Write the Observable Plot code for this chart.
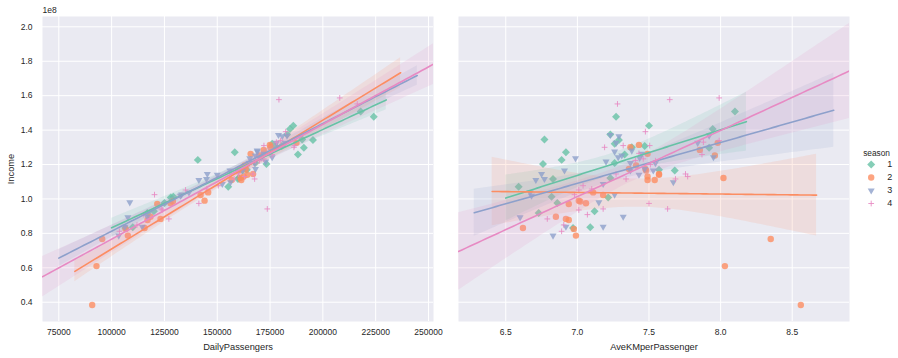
<!DOCTYPE html>
<html><head><meta charset="utf-8">
<script src="https://cdn.jsdelivr.net/npm/d3@7"></script>
<script src="https://cdn.jsdelivr.net/npm/@observablehq/plot@0.6"></script>
<style>
body{margin:0;background:#fff;}
#wrap{position:relative;width:898px;height:358px;font-family:"Liberation Sans",Arial,sans-serif;overflow:hidden;}
#wrap > div{position:absolute;top:0;}
</style></head><body>
<div id="wrap"><div id="left" style="left:0"></div><div id="right" style="left:440px"></div><div id="legend" style="left:849px"></div></div>
<script>
// ---- data ----
const seasons = [1, 2, 3, 4];
const palette = ["#66c2a5", "#fc8d62", "#8da0cb", "#e78ac3"];

// season 1
const incomeS1 = [0.831,0.835,0.919,0.928,0.977,1.009,1.013,1.071,1.116,1.122,1.165,1.169,1.203,1.209,1.227,1.258,1.271,1.297,1.30,1.308,1.32,1.343,1.345,1.374,1.407,1.426,1.478,1.508];
const dailyS1  = [106500,110000,116900,120000,125000,128000,129200,155200,159800,160200,162000,164000,173300,168000,140800,188200,158300,191000,178000,180500,176000,195300,190200,183100,184400,186000,224100,217900];
const kmS1     = [6.97,7.09,6.73,7.12,6.86,7.215,6.82,6.59,6.83,7.23,7.68,7.57,6.76,7.26,6.89,7.33,6.92,7.92,7.38,7.47,7.26,7.29,6.77,7.23,7.945,7.50,7.27,8.10];
// season 2
const incomeS2 = [0.384,0.61,0.767,0.787,0.826,0.831,0.878,0.884,0.897,0.971,0.975,0.99,0.985,1.023,1.038,1.11,1.11,1.122,1.13,1.141,1.145,1.165,1.174,1.174,1.194,1.252,1.262,1.285,1.30,1.314,1.326];
const dailyS2  = [90800,92850,95550,107700,106600,115600,117000,123150,118400,121600,127900,144000,129000,142100,145700,156800,161400,161000,162500,164200,167000,160000,161000,163500,163000,170000,165800,172000,175200,174900,187500];
const kmS2     = [8.56,8.03,8.35,6.99,6.975,6.62,6.94,6.92,6.85,6.94,7.06,7.01,7.02,7.18,7.11,7.49,7.54,8.02,7.49,7.57,7.57,7.48,7.36,7.475,7.41,7.96,7.49,7.855,7.37,7.43,7.98];
// season 3
const incomeS3 = [0.787,0.839,0.839,0.893,0.897,0.98,1.019,1.025,1.038,1.087,1.097,1.11,1.116,1.141,1.145,1.165,1.165,1.165,1.174,1.207,1.209,1.217,1.236,1.238,1.242,1.252,1.262,1.275,1.281,1.326,1.326,1.364,1.368,1.372,1.242];
const dailyS3  = [103400,114500,106300,107700,116900,108600,132600,133100,136600,152400,156300,141300,144900,150000,145300,156000,160000,162000,168100,167700,165000,172900,165400,170000,171000,168000,172000,169000,168900,178000,182000,180800,183000,179000,176000];
const kmS3     = [6.83,6.92,7.18,6.60,7.32,7.15,6.68,7.26,6.67,7.18,7.67,6.71,6.77,7.43,6.75,6.91,7.37,7.53,7.47,7.545,7.37,7.20,6.987,7.435,7.285,7.31,7.45,7.26,7.38,7.27,7.84,7.29,7.92,7.23,7.95];
// season 4
const incomeS4 = [0.812,0.849,0.884,0.909,0.936,0.942,0.942,0.974,1.025,1.052,1.058,1.077,1.116,1.116,1.13,1.145,1.145,1.20,1.222,1.223,1.233,1.258,1.265,1.30,1.31,1.31,1.33,1.339,1.391,1.552,1.577,1.587];
const dailyS4  = [103700,112000,127100,115200,124000,123500,173700,141300,120300,135000,145000,150500,167700,158000,163000,166900,160000,165000,170000,168000,172000,176000,174000,186300,172100,186600,178000,180000,182400,216300,179200,208000];
const kmS4     = [6.89,6.905,6.79,7.07,7.01,7.18,7.63,7.50,6.98,7.01,7.10,7.04,7.34,7.685,7.77,7.27,7.755,7.51,7.545,7.405,7.46,7.87,7.43,7.19,7.32,7.505,7.88,7.99,7.475,7.28,7.645,7.99];

// x-extent of each fitted line (as drawn in the reference)
const fitRangeDaily = [[100000,230000],[82600,236800],[75000,244700],[67280,252370]];
const fitRangeKM    = [[6.5,8.18],[6.405,8.67],[6.28,8.79],[6.17,8.90]];

// axes
const dailyDomain = [67280, 252370];
const kmDomain = [6.17, 8.90];
const incomeDomain = [0.288e8, 2.06e8];
const dailyTicks = [75000,100000,125000,150000,175000,200000,225000,250000];
const kmTicks = [6.5,7.0,7.5,8.0,8.5];
const incomeTicks = [0.4e8,0.6e8,0.8e8,1.0e8,1.2e8,1.4e8,1.6e8,1.8e8,2.0e8];

// ---- build rows ----
const series = [[incomeS1,dailyS1,kmS1],[incomeS2,dailyS2,kmS2],[incomeS3,dailyS3,kmS3],[incomeS4,dailyS4,kmS4]];
const rows = [];
series.forEach(([inc, dp, km], i) => inc.forEach((v, j) => rows.push({season: seasons[i], income: v*1e8, daily: dp[j], km: km[j]})));

function fitLine(data, xk, range, season) {
  const n = data.length;
  const mx = d3.mean(data, d => d[xk]), my = d3.mean(data, d => d.income);
  let sxx = 0, sxy = 0;
  for (const d of data) { sxx += (d[xk]-mx)**2; sxy += (d[xk]-mx)*(d.income-my); }
  const b = sxy/sxx, a = my - b*mx;
  let sse = 0;
  for (const d of data) sse += (d.income - a - b*d[xk])**2;
  const s = Math.sqrt(sse/(n-2));
  const t = 1.96 + 2.5/(n-2);
  return d3.range(101).map(i => {
    const x = range[0] + (range[1]-range[0])*i/100;
    const y = a + b*x;
    const h = t*s*Math.sqrt(1/n + (x-mx)**2/sxx);
    return {x, y, lo: y-h, hi: y+h, season};
  });
}

const symbols = ["diamond2", "circle", "triangle", "plus"];
const radii = [3.6, 3.2, 2.6, 2.0];
function dotMark(data, xk, i, extra = {}) {
  const base = {x: xk, y: "income", symbol: symbols[i], r: radii[i], ...extra};
  if (symbols[i] === "plus") return Plot.dot(data, {...base, stroke: palette[i], strokeOpacity: 0.85, strokeWidth: 1, fill: "none"});
  return Plot.dot(data, {...base, fill: palette[i], fillOpacity: 0.8, stroke: "none", rotate: symbols[i] === "triangle" ? 180 : 0});
}

function panelMarks(xk, ranges) {
  const marks = [];
  const fits = seasons.map((s, i) => fitLine(rows.filter(d => d.season === s), xk, ranges[i], s));
  seasons.forEach((s, i) => {
    marks.push(dotMark(rows.filter(d => d.season === s), xk, i));
    marks.push(Plot.areaY(fits[i], {x: "x", y1: "lo", y2: "hi", fill: palette[i], fillOpacity: 0.15}));
  });
  seasons.forEach((s, i) => marks.push(Plot.line(fits[i], {x: "x", y: "y", stroke: palette[i], strokeWidth: 1.6})));
  return marks;
}

const gridStyle = {stroke: "white", strokeOpacity: 1, strokeWidth: 1};
const baseStyle = {fontFamily: "'Liberation Sans', Arial, sans-serif", fontSize: "8.5px", color: "#262626", background: "transparent", overflow: "visible"};

const left = Plot.plot({
  width: 440, height: 358,
  marginLeft: 42, marginRight: 7, marginTop: 16, marginBottom: 37,
  style: baseStyle, clip: true,
  x: {domain: dailyDomain, axis: null},
  y: {domain: incomeDomain, axis: null},
  marks: [
    Plot.frame({fill: "#EAEAF2", stroke: null}),
    Plot.gridX(dailyTicks, gridStyle),
    Plot.gridY(incomeTicks, gridStyle),
    Plot.axisX(dailyTicks, {tickSize: 0, tickPadding: 7, tickFormat: d3.format("d"), label: null, clip: false}),
    Plot.axisY(incomeTicks, {tickSize: 0, tickPadding: 10, tickFormat: d => (d/1e8).toFixed(1), label: null, clip: false}),
    ...panelMarks("daily", fitRangeDaily),
    Plot.text(["DailyPassengers"], {frameAnchor: "bottom", dy: 26, fontSize: 9.3, textAnchor: "middle", lineAnchor: "middle", clip: false}),
    Plot.text(["Income"], {frameAnchor: "left", dx: -31, rotate: -90, fontSize: 9.3, textAnchor: "middle", lineAnchor: "middle", clip: false}),
    Plot.text(["1e8"], {frameAnchor: "top-left", dy: -6, textAnchor: "start", lineAnchor: "middle", clip: false})
  ]
});
document.getElementById("left").append(left);

const right = Plot.plot({
  width: 458, height: 358,
  marginLeft: 18, marginRight: 49, marginTop: 16, marginBottom: 37,
  style: baseStyle, clip: true,
  x: {domain: kmDomain, axis: null},
  y: {domain: incomeDomain, axis: null},
  marks: [
    Plot.frame({fill: "#EAEAF2", stroke: null}),
    Plot.gridX(kmTicks, gridStyle),
    Plot.gridY(incomeTicks, gridStyle),
    Plot.axisX(kmTicks, {tickSize: 0, tickPadding: 7, tickFormat: d3.format(".1f"), label: null, clip: false}),
    ...panelMarks("km", fitRangeKM),
    Plot.text(["AveKMperPassenger"], {frameAnchor: "bottom", dy: 26, fontSize: 9.3, textAnchor: "middle", lineAnchor: "middle", clip: false})
  ]
});
document.getElementById("right").append(right);

const legend = Plot.plot({
  width: 49, height: 358, margin: 0,
  style: baseStyle,
  x: {domain: [0, 1], range: [21.7, 37.7], axis: null},
  y: {type: "point", domain: seasons, range: [164.3, 203.3], padding: 0, axis: null},
  marks: [
    ...seasons.map((s, i) => dotMark([{season: s, income: s}], () => 0, i, {x: () => 0, y: d => d.season})),
    Plot.text(seasons, {x: () => 1, y: d => d, text: d => String(d), textAnchor: "start", lineAnchor: "middle", fontSize: 9}),
    Plot.text(["season"], {frameAnchor: "top-left", dx: 13.7, dy: 152.7, textAnchor: "start", lineAnchor: "middle", fontSize: 8.3})
  ]
});
document.getElementById("legend").append(legend);
</script>
</body></html>
